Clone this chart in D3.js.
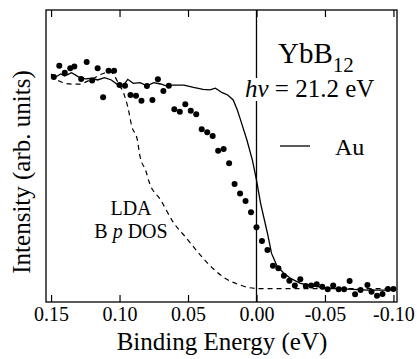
<!DOCTYPE html>
<html>
<head>
<meta charset="utf-8">
<script src="https://cdn.jsdelivr.net/npm/d3@7"></script>
<style>
  body { margin: 0; background: #fff; }
  svg { display: block; font-family: "Liberation Serif", "DejaVu Serif", serif; }
</style>
</head>
<body>
<div class="container"></div>
<script>
// YbB12 photoemission near E_F, hv = 21.2 eV
var dotE = [0.148, 0.144, 0.140, 0.136, 0.133, 0.128, 0.124, 0.120, 0.116, 0.112,
            0.108, 0.104, 0.100, 0.096, 0.092, 0.088, 0.084, 0.080, 0.076, 0.072,
            0.068, 0.064, 0.060, 0.056, 0.052, 0.048, 0.044, 0.040, 0.036, 0.032,
            0.028, 0.024, 0.020, 0.016, 0.012, 0.008, 0.004, 0.000, -0.004, -0.008,
            -0.012, -0.016, -0.020, -0.024, -0.028, -0.032, -0.036, -0.040, -0.044, -0.048,
            -0.052, -0.056, -0.060, -0.064, -0.068, -0.072, -0.076, -0.081, -0.084, -0.088,
            -0.092, -0.096, -0.100];
var dotI = [1.000, 1.053, 1.020, 1.041, 1.049, 0.991, 1.071, 0.983, 1.041, 0.904,
            1.030, 1.030, 0.962, 0.959, 0.915, 0.912, 0.888, 0.958, 0.892, 0.989,
            0.934, 0.959, 0.848, 0.836, 0.871, 0.841, 0.824, 0.753, 0.739, 0.722,
            0.652, 0.660, 0.593, 0.495, 0.451, 0.415, 0.362, 0.291, 0.226, 0.184,
            0.110, 0.098, 0.063, 0.039, 0.016, 0.046, 0.014, 0.016, 0.022, 0.011,
            -0.001, 0.016, -0.001, -0.001, 0.038, -0.025, -0.005, 0.019, -0.013, -0.032,
            -0.024, 0.000, 0.000];

// Au reference edge (solid)
var auE = [0.150, 0.147, 0.143, 0.140, 0.135, 0.130, 0.125, 0.120, 0.116, 0.111,
           0.106, 0.101, 0.097, 0.094, 0.090, 0.085, 0.080, 0.075, 0.070, 0.066,
           0.061, 0.053, 0.046, 0.039, 0.034, 0.030, 0.025, 0.021, 0.017, 0.014,
           0.012, 0.007, 0.003, 0.000, -0.003, -0.008, -0.011, -0.015, -0.020, -0.025,
           -0.032, -0.044, -0.056, -0.081, -0.100];
var auI = [1.014, 0.999, 1.014, 1.005, 1.020, 1.001, 0.991, 0.994, 0.986, 0.997,
           0.986, 0.962, 0.962, 0.989, 0.970, 0.973, 0.958, 0.973, 0.967, 0.958,
           0.962, 0.962, 0.951, 0.942, 0.939, 0.947, 0.926, 0.915, 0.892, 0.844,
           0.805, 0.703, 0.608, 0.514, 0.404, 0.263, 0.168, 0.108, 0.074, 0.050,
           0.027, 0.011, 0.003, -0.005, -0.005];

// LDA B p DOS (dashed)
var ldaE = [0.150, 0.147, 0.143, 0.139, 0.134, 0.129, 0.124, 0.119, 0.113, 0.107,
            0.104, 0.101, 0.097, 0.094, 0.091, 0.087, 0.085, 0.081, 0.078, 0.070,
            0.061, 0.051, 0.041, 0.032, 0.022, 0.012, 0.005, -0.003, -0.032, -0.100];
var ldaI = [1.009, 0.991, 0.978, 0.969, 0.966, 0.966, 0.978, 0.994, 1.014, 1.025,
            1.009, 0.972, 0.923, 0.860, 0.766, 0.703, 0.624, 0.561, 0.498, 0.420,
            0.317, 0.239, 0.160, 0.098, 0.047, 0.019, 0.006, 0.002, 0.002, 0.002];

var xTicks = [0.15, 0.10, 0.05, 0.00, -0.05, -0.10];

const WIDTH = 417, HEIGHT = 359;
const LEFT = 46, TOP = 10, RIGHT = 397, BOTTOM = 302;
const INNER_W = RIGHT - LEFT, INNER_H = BOTTOM - TOP;

var translate = function (x, y) { return "translate(" + x + "," + y + ")"; };

var svg = d3.select(".container").append("svg")
    .attr("width", WIDTH).attr("height", HEIGHT);

var x = d3.scaleLinear().domain([0.1537, -0.1026]).range([0, INNER_W]);
var y = d3.scaleLinear().domain([-0.0613, 1.316]).range([INNER_H, 0]);

var g = svg.append("g").attr("transform", translate(LEFT, TOP));

var fmt = function (d) { return d3.format(".2f")(d).replace("\u2212", "-"); };

var xAxis = g.append("g")
    .attr("transform", translate(0, INNER_H))
    .call(d3.axisBottom(x).tickValues(xTicks).tickFormat(fmt)
      .tickSize(-7).tickSizeOuter(0).tickPadding(5));
xAxis.select(".domain").remove();
xAxis.selectAll("text").attr("font-size", 20).attr("font-family", "Liberation Serif").attr("fill", "#000");
xAxis.selectAll("line").attr("stroke", "#000").attr("stroke-width", 1.2);

var topAxis = g.append("g")
    .call(d3.axisTop(x).tickValues(xTicks).tickFormat("")
      .tickSize(-7).tickSizeOuter(0));
topAxis.select(".domain").remove();
topAxis.selectAll("line").attr("stroke", "#000").attr("stroke-width", 1.2);

// Fermi level marker
g.append("line")
    .attr("x1", x(0)).attr("x2", x(0))
    .attr("y1", 0).attr("y2", INNER_H)
    .attr("stroke", "#000").attr("stroke-width", 1.3);

var line = d3.line()
    .x(function (d) { return x(d[0]); })
    .y(function (d) { return y(d[1]); });

g.append("path")
    .datum(d3.zip(ldaE, ldaI))
    .attr("d", line.curve(d3.curveMonotoneX))
    .attr("fill", "none").attr("stroke", "#000")
    .attr("stroke-width", 1.2).attr("stroke-dasharray", "5,4");

g.append("path")
    .datum(d3.zip(auE, auI))
    .attr("d", line.curve(d3.curveLinear))
    .attr("fill", "none").attr("stroke", "#000").attr("stroke-width", 1.3);

g.selectAll("circle.dot")
    .data(d3.zip(dotE, dotI))
  .enter().append("circle")
    .attr("class", "dot")
    .attr("cx", function (d) { return x(d[0]); })
    .attr("cy", function (d) { return y(d[1]); })
    .attr("r", 3)
    .attr("fill", "#000");

// frame
g.append("rect")
    .attr("width", INNER_W).attr("height", INNER_H)
    .attr("fill", "none").attr("stroke", "#000").attr("stroke-width", 1.3);

// annotations
var title = svg.append("text")
    .attr("x", 278).attr("y", 63)
    .attr("font-size", 29);
title.append("tspan").text("YbB");
title.append("tspan").attr("font-size", 21).attr("dy", 9).text("12");

var hvBg = svg.append("rect").attr("fill", "#fff");
var hv = svg.append("text")
    .attr("x", 245).attr("y", 97)
    .attr("font-size", 25);
hv.append("tspan").attr("font-style", "italic").text("h\u03bd");
hv.append("tspan").text(" = 21.2 eV");
var bb = hv.node().getBBox();
hvBg.attr("x", bb.x - 1).attr("y", bb.y + 3).attr("width", 16).attr("height", bb.height - 4);

svg.append("line")
    .attr("x1", 280).attr("x2", 310).attr("y1", 146).attr("y2", 146)
    .attr("stroke", "#000").attr("stroke-width", 1.3);
svg.append("text").attr("x", 335).attr("y", 155).attr("font-size", 24).text("Au");

svg.append("text").attr("text-anchor", "middle").attr("font-size", 20)
    .attr("x", 131).attr("y", 215).text("LDA");
var lda2 = svg.append("text").attr("text-anchor", "middle").attr("font-size", 20)
    .attr("x", 131).attr("y", 238);
lda2.append("tspan").text("B ");
lda2.append("tspan").attr("font-style", "italic").text("p");
lda2.append("tspan").text(" DOS");

// axis titles
svg.append("text")
    .attr("x", 222).attr("y", 350)
    .attr("text-anchor", "middle").attr("font-size", 25)
    .text("Binding Energy (eV)");

svg.append("text")
    .attr("transform", translate(30, 172) + " rotate(-90)")
    .attr("text-anchor", "middle").attr("font-size", 25)
    .text("Intensity (arb. units)");
</script>
</body>
</html>
